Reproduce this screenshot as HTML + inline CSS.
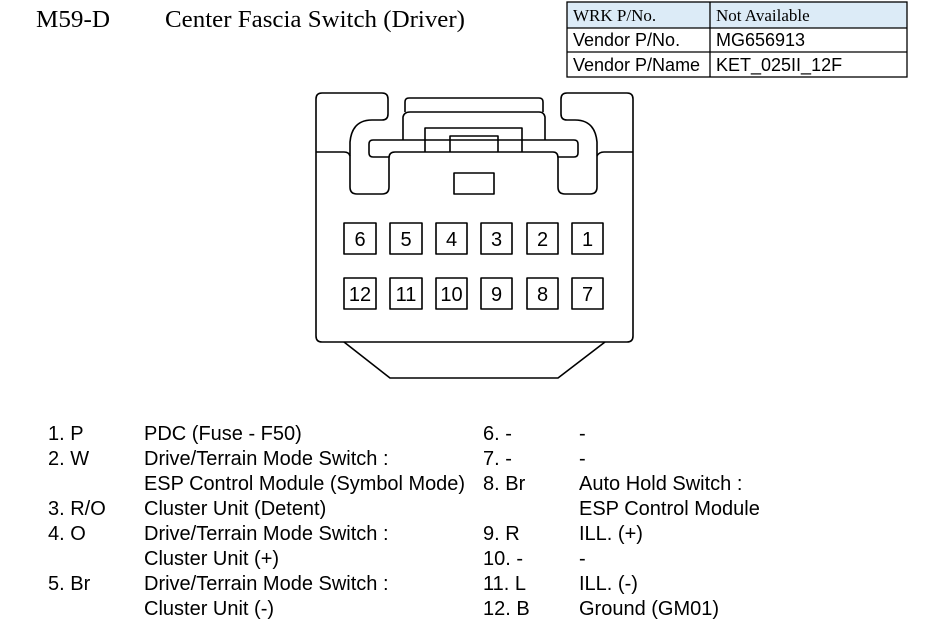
<!DOCTYPE html>
<html><head><style>
html,body{margin:0;padding:0;background:#fff;width:932px;height:638px;overflow:hidden}
svg{display:block}
.s{font-family:"Liberation Sans",sans-serif;font-size:20px;fill:#000}
.t{font-family:"Liberation Sans",sans-serif;font-size:18px;fill:#000}
.r{font-family:"Liberation Serif",serif;fill:#000}
</style></head><body>
<svg width="932" height="638" viewBox="0 0 932 638" xmlns="http://www.w3.org/2000/svg">
<text class="r" x="36" y="27" font-size="24" textLength="74" lengthAdjust="spacingAndGlyphs">M59-D</text>
<text class="r" x="165" y="27" font-size="24" textLength="300" lengthAdjust="spacingAndGlyphs">Center Fascia Switch (Driver)</text>
<rect x="567" y="2" width="340" height="26" fill="#dcebf7"/>
<g stroke="#000" stroke-width="1.3" fill="none">
<rect x="567" y="2" width="340" height="75"/>
<line x1="567" y1="28" x2="907" y2="28"/>
<line x1="567" y1="52" x2="907" y2="52"/>
<line x1="710" y1="2" x2="710" y2="77"/>
</g>
<text class="r" x="573" y="21" font-size="17">WRK P/No.</text>
<text class="r" x="716" y="21" font-size="17">Not Available</text>
<text class="t" x="573" y="46">Vendor P/No.</text>
<text class="t" x="716" y="46">MG656913</text>
<text class="t" x="573" y="71">Vendor P/Name</text>
<text class="t" x="716" y="71">KET_025II_12F</text>

<g stroke="#000" stroke-width="1.6" fill="none" stroke-linejoin="round">
<path d="M322,93 H382 Q388,93 388,99 V114 Q388,120 382,120 H372 Q352,120 350,142 V187 Q350,194 357,194 H382 Q389,194 389,187 V158 Q389,152 395,152 H553 Q558,152 558,158 V187 Q558,194 565,194 H590 Q597,194 597,187 V142 Q595,120 575,120 H567 Q561,120 561,114 V99 Q561,93 567,93 H627 Q633,93 633,99 V336 Q633,342 627,342 H322 Q316,342 316,336 V99 Q316,93 322,93 Z"/>
<path d="M316,152 H344 Q349,152 350,156"/>
<path d="M633,152 H604 Q599,152 597,156"/>
<path d="M405,112 V102 Q405,98 409,98 H539 Q543,98 543,102 V112"/>
<path d="M403,140 V117 Q404,112 410,112 H539 Q544,112 545,117 V140"/>
<path d="M389,157 H373 Q369,157 369,153 V144 Q369,140 373,140 H574 Q578,140 578,144 V153 Q578,157 574,157 H558"/>
<path d="M425,152 V128 H522 V152"/>
<path d="M450,152 V136 H498 V152"/>
<rect x="454" y="173" width="40" height="21"/>
<path d="M344,342 L390,378 H558 L605,342"/>
<rect x="344" y="223" width="32" height="31"/>
<rect x="390" y="223" width="32" height="31"/>
<rect x="436" y="223" width="31" height="31"/>
<rect x="481" y="223" width="31" height="31"/>
<rect x="527" y="223" width="31" height="31"/>
<rect x="572" y="223" width="31" height="31"/>
<rect x="344" y="278" width="32" height="31"/>
<rect x="390" y="278" width="32" height="31"/>
<rect x="436" y="278" width="31" height="31"/>
<rect x="481" y="278" width="31" height="31"/>
<rect x="527" y="278" width="31" height="31"/>
<rect x="572" y="278" width="31" height="31"/>
</g>
<g class="s" text-anchor="middle">
<text x="360" y="246">6</text><text x="406" y="246">5</text><text x="451.5" y="246">4</text>
<text x="496.5" y="246">3</text><text x="542.5" y="246">2</text><text x="587.5" y="246">1</text>
<text x="360" y="301">12</text><text x="406" y="301">11</text><text x="451.5" y="301">10</text>
<text x="496.5" y="301">9</text><text x="542.5" y="301">8</text><text x="587.5" y="301">7</text>
</g>

<g class="s">
<text x="48" y="440">1. P</text><text x="144" y="440">PDC (Fuse - F50)</text>
<text x="48" y="465">2. W</text><text x="144" y="465">Drive/Terrain Mode Switch :</text>
<text x="144" y="490" textLength="321" lengthAdjust="spacingAndGlyphs">ESP Control Module (Symbol Mode)</text>
<text x="48" y="515">3. R/O</text><text x="144" y="515">Cluster Unit (Detent)</text>
<text x="48" y="540">4. O</text><text x="144" y="540">Drive/Terrain Mode Switch :</text>
<text x="144" y="565">Cluster Unit (+)</text>
<text x="48" y="590">5. Br</text><text x="144" y="590">Drive/Terrain Mode Switch :</text>
<text x="144" y="615">Cluster Unit (-)</text>

<text x="483" y="440">6. -</text><text x="579" y="440">-</text>
<text x="483" y="465">7. -</text><text x="579" y="465">-</text>
<text x="483" y="490">8. Br</text><text x="579" y="490">Auto Hold Switch :</text>
<text x="579" y="515">ESP Control Module</text>
<text x="483" y="540">9. R</text><text x="579" y="540">ILL. (+)</text>
<text x="483" y="565">10. -</text><text x="579" y="565">-</text>
<text x="483" y="590">11. L</text><text x="579" y="590">ILL. (-)</text>
<text x="483" y="615">12. B</text><text x="579" y="615">Ground (GM01)</text>
</g>
</svg>
</body></html>
